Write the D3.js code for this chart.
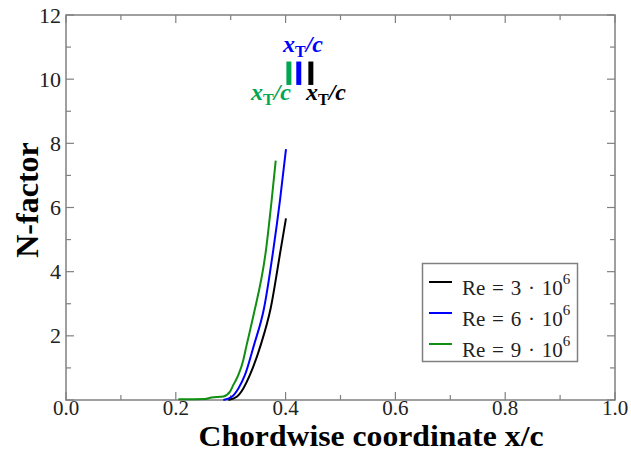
<!DOCTYPE html>
<html>
<head>
<script src="https://d3js.org/d3.v7.min.js"></script>
<style>
body { margin: 0; background: #fff; }
text { font-family: "Liberation Serif", "DejaVu Serif", serif; }
</style>
</head>
<body>
<div id="chart"></div>
<script>
// N-factor curves
var re3 = [[0.2957,0],[0.311,0.1],[0.323,0.36],[0.335,0.78],[0.3546,1.71],[0.3728,2.86],[0.391,4.68],[0.4007,5.66]];
var re6 = [[0.2866,0],[0.302,0.1],[0.314,0.36],[0.326,0.78],[0.3424,1.71],[0.3607,2.86],[0.3776,4.68],[0.3898,6.23],[0.4007,7.82]];
var re9 = [[0.2046,0.02],[0.2526,0.03],[0.265,0.08],[0.2866,0.11],[0.2987,0.26],[0.3048,0.47],[0.314,0.78],[0.323,1.25],[0.329,1.71],[0.341,2.6],[0.3643,4.68],[0.3746,6.23],[0.382,7.46]];
var seriesNames = ["3", "6", "9"];
var seriesColors = ["#000000", "#0000ff", "#108f10"];
// transition markers x_T/c
var markerX = [0.406, 0.424, 0.446];
var markerColors = ["#00a651", "#0000ff", "#000000"];
var markerN = [9.82, 10.55];
var xTicks = [0, 0.2, 0.4, 0.6, 0.8, 1.0];
var yTicks = [2, 4, 6, 8, 10, 12];

var W = 631, H = 452;
var svg = d3.select("#chart").append("svg").attr("width", W).attr("height", H);
var x = d3.scaleLinear().domain([0, 1]).range([66, 615]);
var y = d3.scaleLinear().domain([0, 12]).range([400, 15]);
var frame = "#808080";

// ticks (inward) on all four sides
var g = svg.append("g").attr("stroke", frame).attr("stroke-width", 1.2);
d3.range(0, 11).forEach(function(i){
  var v = i / 10, len = (i % 2 === 0) ? 8 : 5;
  g.append("line").attr("x1", x(v)).attr("x2", x(v)).attr("y1", y(0)).attr("y2", y(0) - len);
  g.append("line").attr("x1", x(v)).attr("x2", x(v)).attr("y1", y(12)).attr("y2", y(12) + len);
});
d3.range(0, 13).forEach(function(v){
  var len = (v % 2 === 0) ? 8 : 5;
  g.append("line").attr("x1", x(0)).attr("x2", x(0) + len).attr("y1", y(v)).attr("y2", y(v));
  g.append("line").attr("x1", x(1)).attr("x2", x(1) - len).attr("y1", y(v)).attr("y2", y(v));
});
svg.append("rect").attr("x", x(0)).attr("y", y(12)).attr("width", x(1) - x(0)).attr("height", y(0) - y(12))
  .attr("fill", "none").attr("stroke", frame).attr("stroke-width", 1.5);

svg.selectAll(".xt").data(xTicks).enter().append("text")
  .attr("x", function(d){ return x(d); }).attr("y", 415).attr("text-anchor", "middle")
  .attr("font-size", 21).attr("fill", "#222").text(function(d){ return d.toFixed(1); });
svg.selectAll(".yt").data(yTicks).enter().append("text")
  .attr("x", 61).attr("y", function(d){ return y(d) + 7.5; }).attr("text-anchor", "end")
  .attr("font-size", 22).attr("fill", "#222").text(function(d){ return d; });

svg.append("text").attr("x", 371).attr("y", 445.5).attr("text-anchor", "middle")
  .attr("font-size", 29).attr("font-weight", "bold").attr("textLength", 345).attr("lengthAdjust", "spacingAndGlyphs")
  .text("Chordwise coordinate x/c");
svg.append("text").attr("transform", "translate(38,200) rotate(-90)").attr("text-anchor", "middle")
  .attr("font-size", 32).attr("font-weight", "bold").text("N-factor");

// curves
var line = d3.line().x(function(d){ return x(d[0]); }).y(function(d){ return y(d[1]); }).curve(d3.curveMonotoneX);
[re3, re6, re9].forEach(function(s, i){
  svg.append("path").attr("d", line(s)).attr("fill", "none")
    .attr("stroke", seriesColors[i]).attr("stroke-width", 2);
});

// transition markers
markerX.forEach(function(m, i){
  svg.append("line").attr("x1", x(m)).attr("x2", x(m)).attr("y1", y(markerN[0])).attr("y2", y(markerN[1]))
    .attr("stroke", markerColors[i]).attr("stroke-width", 5);
});
function xtLabel(cx, cy, col){
  var t = svg.append("text").attr("x", cx).attr("y", cy).attr("text-anchor", "middle")
    .attr("font-size", 24).attr("font-weight", "bold").attr("font-style", "italic").attr("fill", col);
  t.append("tspan").text("x");
  t.append("tspan").attr("font-size", 16).attr("font-style", "normal").attr("dy", 5).text("T");
  t.append("tspan").attr("dy", -5).text("/c");
}
xtLabel(303, 52, markerColors[1]);
xtLabel(271, 100, markerColors[0]);
xtLabel(326, 100, markerColors[2]);

// legend
var lg = svg.append("g");
lg.append("rect").attr("x", 422.5).attr("y", 263.5).attr("width", 155).attr("height", 98)
  .attr("fill", "#fff").attr("stroke", frame).attr("stroke-width", 1.5);
seriesNames.forEach(function(n, i){
  var yy = 282 + i * 31;
  lg.append("line").attr("x1", 429).attr("x2", 452).attr("y1", yy).attr("y2", yy)
    .attr("stroke", seriesColors[i]).attr("stroke-width", 2);
  var t = lg.append("text").attr("x", 462).attr("y", yy + 13).attr("font-size", 21).attr("fill", "#222")
    .attr("word-spacing", 1.5);
  t.append("tspan").text("Re = " + n + " \u00b7 10");
  t.append("tspan").attr("font-size", 15).attr("dy", -11).text("6");
});
</script>
</body>
</html>
